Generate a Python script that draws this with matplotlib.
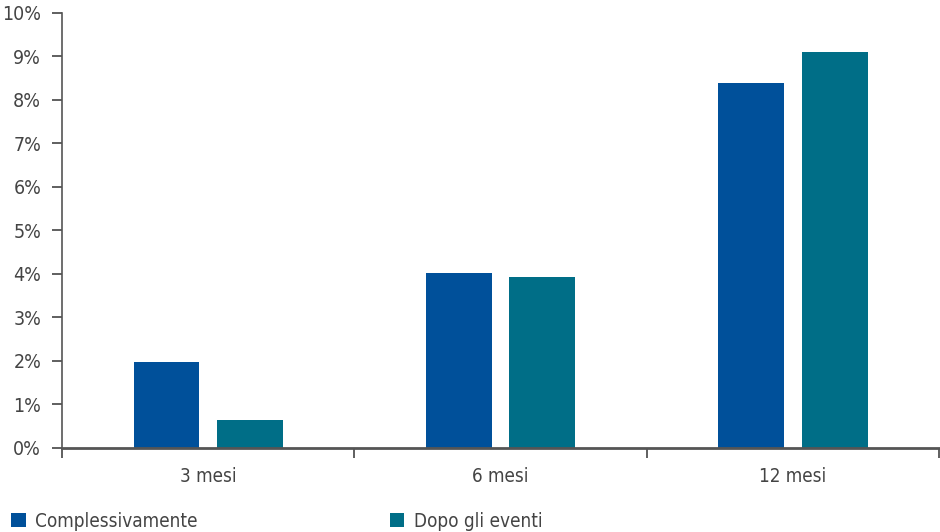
import matplotlib
matplotlib.use('Agg')
import matplotlib.pyplot as plt
import numpy as np

# dati
categorie = ['3 mesi', '6 mesi', '12 mesi']
complessivamente = [1.98, 4.02, 8.4]
dopo_eventi = [0.64, 3.93, 9.1]
serie_nomi = ['Complessivamente', 'Dopo gli eventi']
y_ticks = list(range(0, 11))

BLU = '#00509A'
TEAL = '#006E87'
GRIGIO = '#555555'

plt.rcParams['font.family'] = ['DejaVu Sans']
plt.rcParams['font.stretch'] = 'condensed'
plt.rcParams['font.size'] = 14


def grafica_barre():
    fig = plt.figure(figsize=(9.4, 5.32), dpi=100)
    ax = fig.add_axes([0.066, 0.158, 0.933, 0.8176])

    x = np.arange(len(categorie))
    w = 0.225
    off = 0.143
    ax.bar(x - off, complessivamente, w, color=BLU, label=serie_nomi[0])
    ax.bar(x + off, dopo_eventi, w, color=TEAL, label=serie_nomi[1])

    ax.set_xlim(-0.5, len(categorie) - 0.5)
    ax.set_ylim(0, 10)
    ax.set_yticks(y_ticks)
    ax.set_yticklabels([f'{v}%' for v in y_ticks])

    # tick delle x ai bordi delle categorie, etichette al centro
    ax.set_xticks(np.arange(-0.5, len(categorie), 1.0))
    ax.set_xticklabels([])
    ax.set_xticks(x, minor=True)
    ax.set_xticklabels(categorie, minor=True, fontsize=13.5)
    ax.tick_params(axis='x', which='minor', length=0, pad=14)
    ax.tick_params(axis='x', which='major', length=7, width=1.2, color=GRIGIO)
    ax.tick_params(axis='y', length=7, width=1.2, color=GRIGIO, pad=8)
    ax.tick_params(colors='#444444', which='both', labelcolor='#444444')

    for s in ['top', 'right']:
        ax.spines[s].set_visible(False)
    ax.spines['left'].set_color(GRIGIO)
    ax.spines['left'].set_linewidth(1.2)
    ax.spines['bottom'].set_color(GRIGIO)
    ax.spines['bottom'].set_linewidth(2)

    fig.legend(loc='lower left', bbox_to_anchor=(-0.006, -0.03), ncol=2,
               frameon=False, handlelength=0.75, handleheight=0.75,
               handletextpad=0.5, columnspacing=10.2, fontsize=13.6,
               labelcolor='#444444')

    fig.savefig('out.png', dpi=100)


if __name__ == '__main__':
    grafica_barre()
